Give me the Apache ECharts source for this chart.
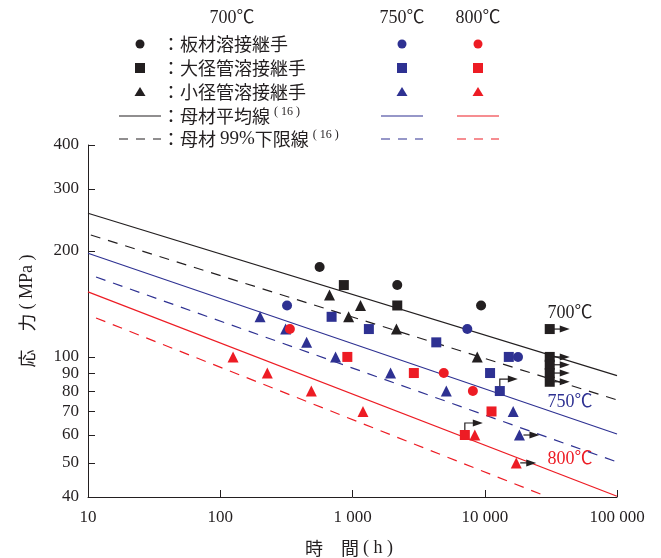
<!DOCTYPE html>
<html>
<head>
<meta charset="utf-8">
<script src="https://cdn.jsdelivr.net/npm/echarts@6/dist/echarts.min.js"></script>
<style>
  html, body { margin: 0; padding: 0; background: #fff; }
  #main { width: 661px; height: 558px; }
</style>
</head>
<body>
<div id="main"></div>
<script>
// 軸の目盛
const xTicks = [10, 100, 1000, 10000, 100000];
const yTicks = [40, 50, 60, 70, 80, 90, 100, 200, 300, 400];

// 母材の平均線・99%下限線 (両端点)
const mean700 = [[10, 256], [100000, 88.5]];
const lower700 = [[10.5, 222], [100000, 75.5]];
const mean750 = [[10, 197], [100000, 60.4]];
const lower750 = [[11.5, 168.7], [100000, 50.3]];
const mean800 = [[10, 153], [100000, 40.2]];
const lower800 = [[11.5, 129], [30000, 40]];

// 700℃ の試験結果
const plate700 = [[564, 180], [2180, 160], [9380, 140]];
const large700 = [[860, 160], [2180, 140], [31000, 120], [31000, 100], [31000, 95], [31000, 90], [31000, 85]];
const small700 = [[670, 150], [1150, 140], [935, 130], [2150, 120], [8780, 100]];

// 750℃
const plate750 = [[320, 140], [7380, 120], [17850, 100]];
const large750 = [[695, 130], [1330, 120], [4300, 110], [15200, 100], [10970, 90], [13000, 80]];
const small750 = [[200, 130], [312, 120], [450, 110], [745, 100], [1940, 90], [5120, 80], [16400, 70], [18300, 60]];

// 800℃
const plate800 = [[336, 120], [4900, 90], [8130, 80]];
const large800 = [[914, 100], [2910, 90], [11250, 70], [7070, 60]];
const small800 = [[125, 100], [227, 90], [488, 80], [1200, 70], [8410, 60], [17300, 50]];

// 未破断 (矢印) : 0 = 右向き, 1 = 上から右
const runouts = [
  [31000, 120, 0], [31000, 100, 0], [31000, 95, 0], [31000, 90, 0], [31000, 85, 0],
  [18300, 60, 0], [17300, 50, 0],
  [13000, 80, 1], [7070, 60, 1]
];

const BLACK = '#231f20';
const BLUE = '#2e3192';
const RED = '#ed1c24';
const SERIF = '"Liberation Serif", "Noto Sans CJK JP", serif';
const CJK = '"Noto Sans CJK JP", sans-serif';

function fmtX(v) {
  return String(Math.round(v)).replace(/\B(?=(\d{3})+(?!\d))/g, ' ');
}

function lineSeries(data, color, dashed) {
  return {
    type: 'line',
    data: data,
    symbol: 'none',
    silent: true,
    lineStyle: { color: color, width: 1.2, type: dashed ? [10, 8] : 'solid' },
    z: 2
  };
}

function dotSeries(data, color, symbol, size) {
  return {
    type: 'scatter',
    data: data,
    symbol: symbol,
    symbolSize: size,
    itemStyle: { color: color, opacity: 1 },
    z: 4
  };
}

function renderArrow(params, api) {
  const p = api.coord([api.value(0), api.value(1)]);
  const up = api.value(2) === 1;
  const children = [];
  let y = p[1];
  let tip = p[0] + 20;
  if (up) {
    y = p[1] - 12;
    tip = p[0] + 18;
    children.push({
      type: 'polyline',
      shape: { points: [[p[0], p[1] - 4], [p[0], y], [tip - 6, y]] },
      style: { stroke: BLACK, fill: null, lineWidth: 1.2 }
    });
  } else {
    children.push({
      type: 'line',
      shape: { x1: p[0] + 4, y1: y, x2: tip - 6, y2: y },
      style: { stroke: BLACK, lineWidth: 1.2 }
    });
  }
  children.push({
    type: 'polygon',
    shape: { points: [[tip, y], [tip - 10, y - 3.5], [tip - 10, y + 3.5]] },
    style: { fill: BLACK }
  });
  return { type: 'group', children: children };
}

// 凡例
const legendRows = [44, 68, 92, 116, 139];
const legendCols = [{ x: 140, color: BLACK }, { x: 402, color: BLUE }, { x: 478, color: RED }];
const legendTexts = [
  '：板材溶接継手',
  '：大径管溶接継手',
  '：小径管溶接継手',
  '：母材平均線{s|( 16 )}',
  '：母材 {n|99%}下限線{s|( 16 )}'
];

const graphics = [];
[['700℃', 232], ['750℃', 402], ['800℃', 478]].forEach(function (h) {
  graphics.push({
    type: 'text', x: h[1], y: 18,
    style: { text: h[0], font: '18px ' + SERIF, fill: BLACK, align: 'center', verticalAlign: 'middle' }
  });
});
legendCols.forEach(function (c) {
  graphics.push({ type: 'circle', shape: { cx: c.x, cy: legendRows[0], r: 4.5 }, style: { fill: c.color } });
  graphics.push({ type: 'rect', shape: { x: c.x - 5, y: legendRows[1] - 5, width: 10, height: 10 }, style: { fill: c.color } });
  graphics.push({ type: 'polygon', shape: { points: [[c.x, legendRows[2] - 5], [c.x + 5.5, legendRows[2] + 4], [c.x - 5.5, legendRows[2] + 4]] }, style: { fill: c.color } });
  graphics.push({ type: 'line', shape: { x1: c.x - 21, y1: legendRows[3], x2: c.x + 21, y2: legendRows[3] }, style: { stroke: c.color, lineWidth: 1.2 } });
  graphics.push({ type: 'line', shape: { x1: c.x - 21, y1: legendRows[4], x2: c.x + 21, y2: legendRows[4] }, style: { stroke: c.color, lineWidth: 1.2, lineDash: [9, 8] } });
});
legendTexts.forEach(function (t, i) {
  graphics.push({
    type: 'text', x: 162, y: legendRows[i],
    style: {
      text: t, font: '18px ' + CJK, fill: BLACK, verticalAlign: 'middle',
      rich: {
        s: { font: '12px ' + SERIF, fill: BLACK, verticalAlign: 'bottom', padding: [0, 0, 8, 4] },
        n: { font: '19px ' + SERIF, fill: BLACK }
      }
    }
  });
});
// 温度の注記
[['700℃', 313, BLACK], ['750℃', 402, BLUE], ['800℃', 459, RED]].forEach(function (t) {
  graphics.push({
    type: 'text', x: 570, y: t[1],
    style: { text: t[0], font: '18px ' + SERIF, fill: t[2], align: 'center', verticalAlign: 'middle' }
  });
});
// 軸名
graphics.push({
  type: 'text', x: 27, y: 311, rotation: Math.PI / 2,
  style: {
    text: '応　力 {m|( MPa )}', font: '18px ' + CJK, fill: BLACK, align: 'center', verticalAlign: 'middle',
    rich: { m: { font: '18px ' + SERIF, fill: BLACK } }
  }
});
graphics.push({
  type: 'text', x: 349, y: 548,
  style: {
    text: '時　間 {m|( h )}', font: '18px ' + CJK, fill: BLACK, align: 'center', verticalAlign: 'middle',
    rich: { m: { font: '18px ' + SERIF, fill: BLACK } }
  }
});

const chart = echarts.init(document.getElementById('main'), null, { renderer: 'canvas' });

const option = {
  backgroundColor: '#ffffff',
  animation: false,
  grid: { left: 88, right: 44, top: 145, bottom: 61, containLabel: false },
  xAxis: {
    type: 'log',
    logBase: 10,
    min: 10,
    max: 100000,
    axisLine: { lineStyle: { color: BLACK, width: 1 } },
    axisTick: { inside: true, length: 7, customValues: xTicks, lineStyle: { color: BLACK } },
    axisLabel: {
      customValues: xTicks, formatter: fmtX, color: BLACK,
      fontFamily: SERIF, fontSize: 17, margin: 12, showMinLabel: true, showMaxLabel: true
    },
    splitLine: { show: false },
    minorTick: { show: false }
  },
  yAxis: {
    type: 'log',
    logBase: 10,
    min: 40,
    max: 400,
    axisLine: { show: true, lineStyle: { color: BLACK, width: 1 } },
    axisTick: { show: true, inside: true, length: 7, customValues: yTicks, lineStyle: { color: BLACK } },
    axisLabel: {
      customValues: yTicks, formatter: function (v) { return String(Math.round(v)); },
      color: BLACK, fontFamily: SERIF, fontSize: 17, margin: 9
    },
    splitLine: { show: false }
  },
  graphic: graphics,
  series: [
    lineSeries(mean700, BLACK, false),
    lineSeries(lower700, BLACK, true),
    lineSeries(mean750, BLUE, false),
    lineSeries(lower750, BLUE, true),
    lineSeries(mean800, RED, false),
    lineSeries(lower800, RED, true),
    {
      type: 'custom',
      renderItem: renderArrow,
      data: runouts,
      silent: true,
      z: 3
    },
    dotSeries(plate700, BLACK, 'circle', 10),
    dotSeries(large700, BLACK, 'rect', 10),
    dotSeries(small700, BLACK, 'triangle', 11),
    dotSeries(plate750, BLUE, 'circle', 10),
    dotSeries(large750, BLUE, 'rect', 10),
    dotSeries(small750, BLUE, 'triangle', 11),
    dotSeries(plate800, RED, 'circle', 10),
    dotSeries(large800, RED, 'rect', 10),
    dotSeries(small800, RED, 'triangle', 11)
  ]
};

chart.setOption(option);
</script>
</body>
</html>
